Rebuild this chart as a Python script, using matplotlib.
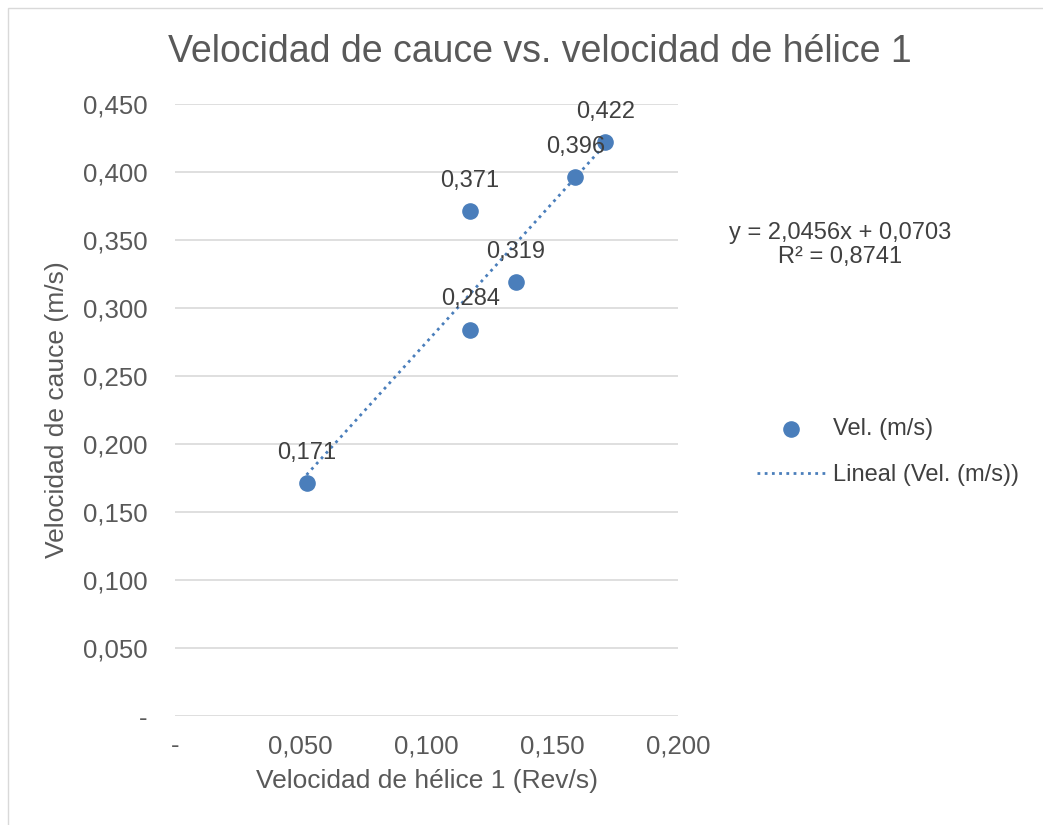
import matplotlib.pyplot as plt
import numpy as np
from matplotlib.patches import Rectangle

plt.rcParams['font.family'] = ['Liberation Sans', 'DejaVu Sans']

# data
helice = [0.0523, 0.1171, 0.1174, 0.1356, 0.1592, 0.1711]
cauce = [0.171, 0.371, 0.284, 0.319, 0.396, 0.422]
etiquetas = ['0,171', '0,371', '0,284', '0,319', '0,396', '0,422']
pendiente = 2.0456
intercepto = 0.0703
r2 = 0.8741

x_ticks = [0, 0.05, 0.10, 0.15, 0.20]
y_ticks = [0, 0.05, 0.10, 0.15, 0.20, 0.25, 0.30, 0.35, 0.40, 0.45]

gris = '#595959'
azul = '#4A7EBB'

W, H = 1043, 825
fig = plt.figure(figsize=(W / 100, H / 100), dpi=100)
ax = fig.add_axes([175 / W, 1 - 716 / H, (678 - 175) / W, (716 - 104) / H])

# outer chart border
fig.patches.append(Rectangle((8 / W, -0.01), 1.02, 1 - 8 / H + 0.01, transform=fig.transFigure,
                             fill=False, edgecolor='#D9D9D9', linewidth=1))

ax.scatter(helice, cauce, s=120, color=azul, zorder=3, label='Vel. (m/s)')
xs = np.array([min(helice), max(helice)])
ax.plot(xs, pendiente * xs + intercepto, linestyle=(0, (1, 1.6)), color=azul, linewidth=2,
        zorder=2, label='Lineal (Vel. (m/s))')

for x, y, t in zip(helice, cauce, etiquetas):
    ax.annotate(t, (x, y), xytext=(0, 22), textcoords='offset points', ha='center',
                va='center', fontsize=17, color='#404040', zorder=4)

def fmt(v):
    return '-' if abs(v) < 1e-9 else f'{v:.3f}'.replace('.', ',')

ax.set_xlim(0, 0.2)
ax.set_ylim(0, 0.45)
ax.set_xticks(x_ticks)
ax.set_xticklabels([fmt(v) for v in x_ticks])
ax.set_yticks(y_ticks)
ax.set_yticklabels([fmt(v) for v in y_ticks])
ax.tick_params(axis='y', length=0, labelsize=18.5, labelcolor=gris, pad=20)
ax.tick_params(axis='x', length=0, labelsize=18.5, labelcolor=gris, pad=13)
ax.yaxis.grid(True, color='#D9D9D9', linewidth=1.2)
ax.set_axisbelow(True)
for s in ax.spines.values():
    s.set_visible(False)

ax.set_xlabel('Velocidad de hélice 1 (Rev/s)', fontsize=19, color=gris, labelpad=8)
ax.set_ylabel('Velocidad de cauce (m/s)', fontsize=19, color=gris, labelpad=10)
fig.text(540 / W, 1 - 52 / H, 'Velocidad de cauce vs. velocidad de hélice 1', ha='center',
         va='center', fontsize=27, color=gris)

fig.text(840 / W, 1 - 233 / H, f'y = {pendiente:.4f}x + {intercepto:.4f}'.replace('.', ','),
         ha='center', va='center', fontsize=17, color='#404040')
fig.text(840 / W, 1 - 257 / H, f'R² = {r2:.4f}'.replace('.', ','),
         ha='center', va='center', fontsize=17, color='#404040')

ax.legend(loc='center left', bbox_to_anchor=(757 / W, 1 - 452 / H), bbox_transform=fig.transFigure,
          frameon=False, fontsize=17, labelcolor='#404040', handlelength=2.9, handletextpad=0.3,
          labelspacing=1.0, markerscale=1, borderpad=0, borderaxespad=0)

fig.savefig('out.png', dpi=100)
